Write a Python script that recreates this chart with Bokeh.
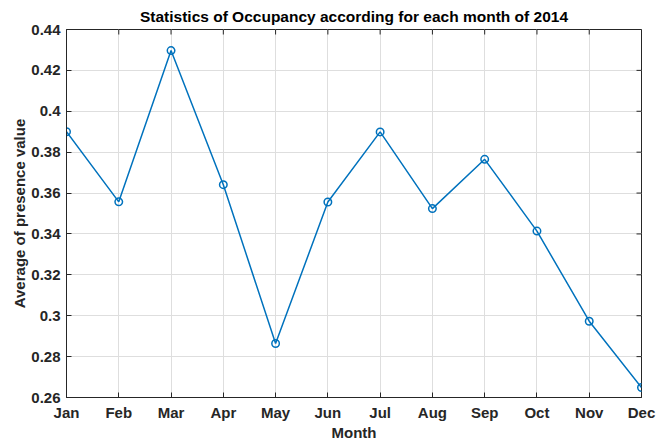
import math
from bokeh.plotting import figure
from bokeh.models import Range1d, FixedTicker, ColumnDataSource
from bokeh.embed import file_html
from bokeh.resources import INLINE

months = ["Jan", "Feb", "Mar", "Apr", "May", "Jun", "Jul", "Aug", "Sep", "Oct", "Nov", "Dec"]
month_num = [1, 2, 3, 4, 5, 6, 7, 8, 9, 10, 11, 12]
presence = [0.3900, 0.3557, 0.4297, 0.3641, 0.2864, 0.3556, 0.3899, 0.3524, 0.3765, 0.3414, 0.2973, 0.2649]
y_ticks = [0.26, 0.28, 0.30, 0.32, 0.34, 0.36, 0.38, 0.40, 0.42, 0.44]
y_tick_labels = ["0.26", "0.28", "0.3", "0.32", "0.34", "0.36", "0.38", "0.4", "0.42", "0.44"]

FONT = "Liberation Sans"
TXT = "#262626"
LINE = "#0072BD"

src = ColumnDataSource(dict(x=month_num, y=presence))

p = figure(frame_width=575, frame_height=368, output_backend="svg", toolbar_location=None,
           x_range=Range1d(1, 12), y_range=Range1d(0.26, 0.44),
           min_border_left=66, min_border_right=17, min_border_top=15, min_border_bottom=0,
           title="Statistics of Occupancy according for each month of 2014")

p.title.text_font = FONT
p.title.text_font_size = "15.5px"
p.title.text_font_style = "bold"
p.title.text_color = "#000000"
p.title.align = "center"
p.title.standoff = 10

p.outline_line_color = TXT
p.outline_line_width = 1
p.outline_line_alpha = 1

xt = FixedTicker(ticks=month_num)
yt = FixedTicker(ticks=y_ticks)
xlab = {m: s for m, s in zip(month_num, months)}
ylab = {t: s for t, s in zip(y_ticks, y_tick_labels)}

def style_axis(ax):
    ax.axis_line_color = TXT
    ax.axis_line_width = 1
    ax.major_tick_line_color = TXT
    ax.major_tick_in = 5
    ax.major_tick_out = 0
    ax.minor_tick_line_color = None
    ax.major_label_text_font = FONT
    ax.major_label_text_font_style = "bold"
    ax.major_label_text_color = TXT
    ax.major_label_text_font_size = "15px"
    ax.axis_label_text_font = FONT
    ax.axis_label_text_font_style = "bold"
    ax.axis_label_text_color = TXT
    ax.axis_label_text_font_size = "15px"

xa = p.xaxis[0]
xa.ticker = xt
xa.major_label_overrides = xlab
xa.axis_label = "Month"
style_axis(xa)
xa.major_label_standoff = 6
xa.axis_label_standoff = 0

ya = p.yaxis[0]
ya.ticker = yt
ya.major_label_overrides = ylab
ya.axis_label = "Average of presence value"
style_axis(ya)
ya.major_label_standoff = 6
ya.axis_label_standoff = 0

p.xgrid.ticker = xt
p.ygrid.ticker = yt
for g in (p.xgrid[0], p.ygrid[0]):
    g.grid_line_color = "#dedede"
    g.grid_line_width = 1

# inward tick marks on the top and right edges of the box (MATLAB style)
p.ray(x=month_num, y=[y_ticks[-1]] * len(month_num), length=5, length_units="screen",
      angle=-math.pi / 2, line_color=TXT, line_width=1)
p.ray(x=[month_num[-1]] * len(y_ticks), y=y_ticks, length=5, length_units="screen",
      angle=math.pi, line_color=TXT, line_width=1)

p.line("x", "y", source=src, line_color=LINE, line_width=1.5)
p.scatter("x", "y", source=src, marker="circle", size=7.5, fill_color=None,
          line_color=LINE, line_width=1.5)

open("out.html", "w").write(file_html(p, INLINE))
